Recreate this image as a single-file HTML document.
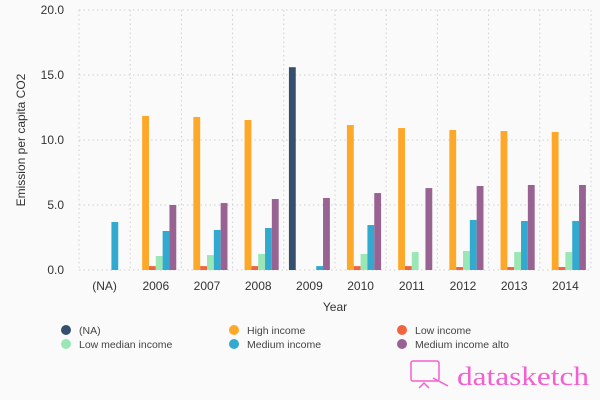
<!DOCTYPE html>
<html><head><meta charset="utf-8"><style>
body{margin:0;background:#fafafa;}
svg{display:block;font-family:"Liberation Sans",sans-serif;}
</style></head><body>
<svg id="chart" width="600" height="400">
<rect width="600" height="400" fill="#fafafa"/>
<g id="grid"></g><g id="bars"></g><g id="axes"></g>
<text x="335" y="311" text-anchor="middle" font-size="12" fill="#333">Year</text>
<text transform="translate(25,140) rotate(-90)" text-anchor="middle" font-size="12" fill="#333">Emission per capita CO2</text>
<g id="legend"></g>
<g>
<rect x="411" y="361" width="28" height="20" rx="2" fill="none" stroke="#f45fd1" stroke-width="1.5"/>
<line x1="433" y1="378" x2="448" y2="386" stroke="#f45fd1" stroke-width="1.5"/>
<path d="M419 388 L424 383 L429 388" fill="none" stroke="#f45fd1" stroke-width="1.5"/>
<text x="457" y="385" font-size="26" fill="#f45fd1" font-family="Liberation Serif, serif" textLength="132" lengthAdjust="spacingAndGlyphs">datasketch</text>
</g>
</svg>
<script>
const categories=["(NA)","2006","2007","2008","2009","2010","2011","2012","2013","2014"];
const seriesNames=["(NA)","High income","Low income","Low median income","Medium income","Medium income alto"];
const colors=["#34506e","#fea82a","#f2643f","#9ae6b4","#32a9cf","#986293"];
const sNA=[0,0,0,0,15.6,0,0,0,0,0];
const sHigh=[0,11.85,11.77,11.54,0,11.15,10.92,10.77,10.69,10.62];
const sLow=[0,0.3,0.3,0.3,0,0.3,0.3,0.23,0.23,0.23];
const sLowMed=[0,1.08,1.15,1.23,0,1.23,1.38,1.46,1.38,1.38];
const sMed=[3.69,3.0,3.08,3.23,0.3,3.46,0,3.85,3.77,3.77];
const sMedAlto=[0,5.0,5.15,5.46,5.54,5.92,6.3,6.46,6.54,6.54];
const yTicks=[0,5,10,15,20];
const yTickLabels=["0.0","5.0","10.0","15.0","20.0"];
const series=[sNA,sHigh,sLow,sLowMed,sMed,sMedAlto];
const NS="http://www.w3.org/2000/svg";
const X0=79,X1=591,Y0=270,Y1=10,YMAX=20;
const bw=(X1-X0)/categories.length;
const y=v=>Y0-(v/YMAX)*(Y0-Y1);
const x=i=>X0+i*bw;
function mk(t,a,p){const e=document.createElementNS(NS,t);for(const k in a)e.setAttribute(k,a[k]);p.appendChild(e);return e;}
const grid=document.getElementById('grid'),bars=document.getElementById('bars'),axes=document.getElementById('axes'),legend=document.getElementById('legend');
yTicks.forEach((t,i)=>{
  const l=mk('line',{x1:X0,x2:X1,y1:y(t),y2:y(t),stroke:'#d0d0d0','stroke-dasharray':'1.5,3'},grid);
  
  
  const tx=mk('text',{x:64,y:y(t)+4,'text-anchor':'end','font-size':'12',fill:'#333'},axes);
  tx.textContent=yTickLabels[i];
  
  
});
for(let i=0;i<=categories.length;i++){
  const l=mk('line',{x1:x(i),x2:x(i),y1:Y1,y2:Y0,stroke:'#d0d0d0','stroke-dasharray':'1.5,3'},grid);
  
  
}
const inner=bw*0.8/series.length;
categories.forEach((c,i)=>{
  const tx=mk('text',{x:x(i)+bw/2,y:290,'text-anchor':'middle','font-size':'12',fill:'#333'},axes);
  tx.textContent=c;
  
  
  series.forEach((s,j)=>{
    const v=s[i]; if(!v) return;
    const r=mk('rect',{x:x(i)+bw*0.1+j*inner,y:y(v),width:inner,height:Y0-y(v),fill:colors[j]},bars);
    
    
  });
});
seriesNames.forEach((n,j)=>{
  const cx=66+(j%3)*168, cy=330+Math.floor(j/3)*14;
  const g=mk('g',{},legend);
  
  
  mk('circle',{cx:cx,cy:cy,r:5,fill:colors[j]},g);
  const t=mk('text',{x:cx+13,y:cy+4,'font-size':'10.5',fill:'#444'},g);
  t.textContent=n;
});
</script>
</body></html>
